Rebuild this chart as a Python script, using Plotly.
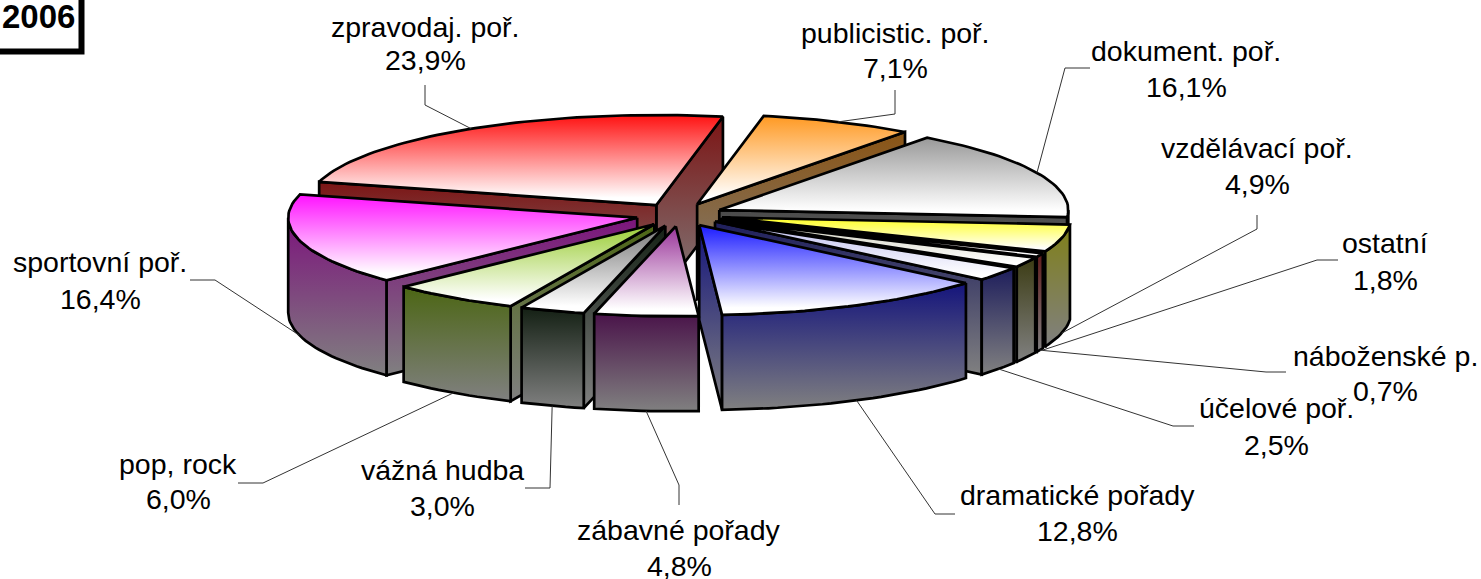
import math
import plotly.graph_objects as go

categories = ["publicistic. poř.", "dokument. poř.", "vzdělávací poř.", "náboženské p.", "ostatní",
              "účelové poř.", "dramatické pořady", "zábavné pořady", "vážná hudba", "pop, rock",
              "sportovní poř.", "zpravodaj. poř."]
values = [7.1, 16.1, 4.9, 0.7, 1.8, 2.5, 12.8, 4.8, 3.0, 6.0, 16.4, 23.9]
top_colors = ["#ff9922", "#999999", "#ffff22", "#e8d0d0", "#ccccb8", "#bbbbee", "#1a1aff", "#993399",
              "#777777", "#99cc33", "#ff11ff", "#ff1111"]
wall_colors = ["#8a5414", "#4a4a4a", "#808018", "#601c1c", "#3c3c14", "#1e1e5c", "#14147c", "#4a144a",
               "#142014", "#4c6614", "#7c147c", "#7c1414"]
label_xy = [(895, 33, 68), (1186, 51, 87), (1257, 148, 184), (1385, 356, 391), (1385, 243, 280),
            (1276, 408, 445), (1077, 495, 531), (679, 530, 566), (442, 470, 506), (178, 464, 499),
            (100, 262, 299), (425, 27, 60)]
leader_elbows = [[(895, 90), (895, 114)], [(1090, 68), (1065, 68)], [(1257, 215), (1257, 229)],
                 [(1286, 372), (1266, 372)], [(1338, 260), (1317, 260), (1043, 350)], [(1194, 426), (1173, 426)],
                 [(955, 514), (935, 514)], [(679, 505), (679, 485)], [(525, 488), (550, 488)],
                 [(238, 483), (263, 483)], [(190, 280), (215, 280)], [(425, 85), (425, 105)]]
leader_to_rim = [True, True, True, True, False, True, True, True, True, True, True, True]

CX, CY, RX, RY, EX, EY, DEPTH, START = 679.5, 214.8, 349, 90, 43.7, 11.5, 95, 11.0
FONT = "Liberation Sans"
GREY = "#808080"


def rim(apex, a):
    r = math.radians(a)
    return apex[0] + RX * math.sin(r), apex[1] - RY * math.cos(r)


def arc(apex, a0, a1):
    n = max(2, int(abs(a1 - a0) / 1.5) + 1)
    return [rim(apex, a0 + (a1 - a0) * i / (n - 1)) for i in range(n)]


def poly(fig, pts, scale):
    xs = [p[0] for p in pts] + [pts[0][0]]
    ys = [p[1] for p in pts] + [pts[0][1]]
    fig.add_trace(go.Scatter(
        x=xs, y=ys, mode="lines", line=dict(color="black", width=2.7, shape="linear"),
        fill="toself", hoverinfo="skip", showlegend=False,
        fillgradient=dict(type="vertical", start=min(ys), stop=max(ys), colorscale=scale)))


slices = []
cum = START
for i, v in enumerate(values):
    a0, a1 = cum, cum + v * 3.6
    cum = a1
    mid = math.radians((a0 + a1) / 2)
    apex = (CX + EX * math.sin(mid), CY - EY * math.cos(mid))
    slices.append(dict(i=i, a0=a0, a1=a1, mid=(a0 + a1) / 2, apex=apex))


def order(q):
    return -(abs(q["mid"] - 180) + (10 if q["mid"] > 180 else 0))


fig = go.Figure()
for s in sorted(slices, key=order):
    i, a0, a1, apex = s["i"], s["a0"], s["a1"], s["apex"]
    wall = [[0, wall_colors[i]], [1, GREY]]

    def down(p):
        return (p[0], p[1] + DEPTH)

    if math.sin(math.radians(a1)) > 0:
        e = rim(apex, a1)
        poly(fig, [apex, e, down(e), down(apex)], wall)
    if math.sin(math.radians(a0)) < 0:
        e = rim(apex, a0)
        poly(fig, [apex, e, down(e), down(apex)], wall)
    w0, w1 = max(a0, 90), min(a1, 270)
    if w1 > w0:
        top = arc(apex, w0, w1)
        poly(fig, top + [down(p) for p in reversed(top)], wall)
    poly(fig, [apex] + arc(apex, a0, a1),
         [[0, top_colors[i]], [0.92, "#ffffff"], [1, "#ffffff"]])

# leader lines: fixed elbows to the rim of each slice
for s in slices:
    i = s["i"]
    pts = list(leader_elbows[i])
    if leader_to_rim[i]:
        p = rim(s["apex"], s["mid"])
        if math.cos(math.radians(s["mid"])) < 0:
            p = (p[0], p[1] + DEPTH)
        pts.append(p)
    fig.add_trace(go.Scatter(x=[q[0] for q in pts], y=[q[1] for q in pts], mode="lines",
                             line=dict(color="#333333", width=1), hoverinfo="skip", showlegend=False))

annotations = []
for name, v, (x, y1, y2) in zip(categories, values, label_xy):
    for txt, y in ((name, y1), (f"{v:.1f}%".replace(".", ","), y2)):
        annotations.append(dict(x=x, y=y, text=txt, showarrow=False, xanchor="center", yanchor="middle",
                                font=dict(family=FONT, size=28.5, color="black")))
annotations.append(dict(x=38, y=16, text="<b>2006</b>", showarrow=False, xanchor="center", yanchor="middle",
                        font=dict(family=FONT, size=33, color="black")))

fig.update_layout(
    width=1481, height=579, margin=dict(l=0, r=0, t=0, b=0), autosize=False,
    paper_bgcolor="white", plot_bgcolor="white", showlegend=False,
    xaxis=dict(range=[0, 1481], visible=False, fixedrange=True),
    yaxis=dict(range=[579, 0], visible=False, fixedrange=True),
    annotations=annotations,
    shapes=[dict(type="path", path="M -5 51.5 L 81.5 51.5 L 81.5 -5", line=dict(color="black", width=6))],
)
fig.write_html("out.html", config=dict(displayModeBar=False),
               post_script="document.body.style.margin='0';document.documentElement.style.overflow='hidden';")
